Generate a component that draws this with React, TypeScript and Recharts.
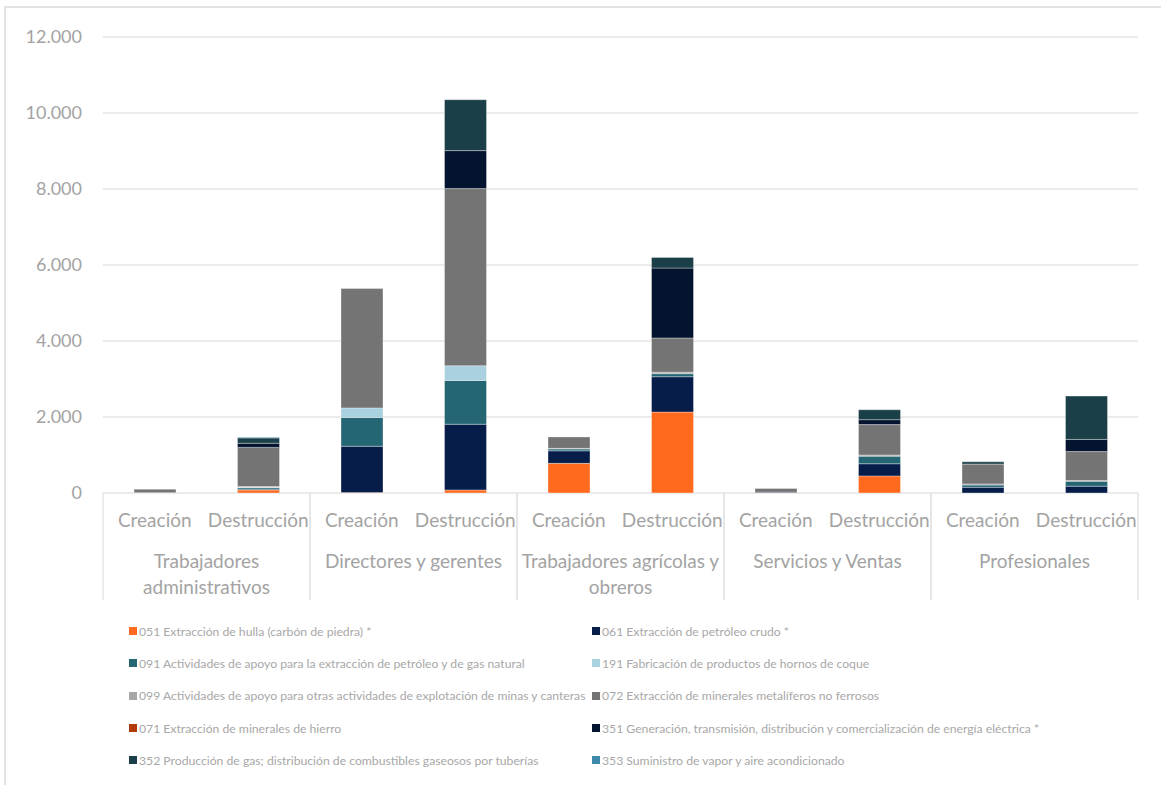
import { BarChart, Bar, XAxis, YAxis, CartesianGrid } from "recharts";

const groups = [
  "Trabajadores\nadministrativos",
  "Directores y gerentes",
  "Trabajadores agrícolas y\nobreros",
  "Servicios y Ventas",
  "Profesionales",
];
const kinds = ["Creación", "Destrucción"];

const yTicks = [0, 2000, 4000, 6000, 8000, 10000, 12000];

// one value per bar: admin C/D, directores C/D, agrícolas C/D, servicios C/D, profesionales C/D
const s051 = [0, 80, 10, 80, 780, 2130, 0, 450, 0, 0];
const s061 = [10, 20, 1220, 1730, 330, 930, 20, 320, 150, 180];
const s091 = [0, 40, 760, 1150, 50, 80, 0, 200, 60, 130];
const s191 = [0, 10, 250, 390, 0, 0, 0, 0, 0, 0];
const s099 = [0, 20, 0, 0, 15, 40, 0, 30, 30, 20];
const s072 = [90, 1030, 3140, 4660, 300, 900, 100, 800, 520, 760];
const s071 = [0, 0, 0, 0, 0, 0, 0, 0, 0, 0];
const s351 = [0, 110, 0, 1000, 0, 1840, 0, 130, 0, 320];
const s352 = [0, 140, 0, 1340, 0, 280, 0, 260, 60, 1140];
const s353 = [0, 20, 0, 0, 0, 0, 0, 0, 0, 0];

const series = [
  { key: "s051", name: "051 Extracción de hulla (carbón de piedra) *", color: "#FF6A1F", values: s051 },
  { key: "s061", name: "061 Extracción de petróleo crudo *", color: "#061D4A", values: s061 },
  { key: "s091", name: "091 Actividades de apoyo para la extracción de petróleo y de gas natural", color: "#256674", values: s091 },
  { key: "s191", name: "191 Fabricación de productos de hornos de coque", color: "#A9D1E0", values: s191 },
  { key: "s099", name: "099 Actividades de apoyo para otras actividades de explotación de minas y canteras", color: "#A6A6A6", values: s099 },
  { key: "s072", name: "072 Extracción de minerales metalíferos no ferrosos", color: "#747474", values: s072 },
  { key: "s071", name: "071 Extracción de minerales de hierro", color: "#B13B06", values: s071 },
  { key: "s351", name: "351 Generación, transmisión, distribución y comercialización de energía eléctrica *", color: "#04132E", values: s351 },
  { key: "s352", name: "352 Producción de gas; distribución de combustibles gaseosos por tuberías", color: "#1B3F48", values: s352 },
  { key: "s353", name: "353 Suministro de vapor y aire acondicionado", color: "#3E8AAA", values: s353 },
];

const data = s051.map((_, i) => {
  const row: Record<string, string | number> = {
    id: `${i}`,
    kind: kinds[i % 2],
  };
  series.forEach((s) => {
    row[s.key] = s.values[i];
  });
  return row;
});

const W = 1161;
const H = 785;
const PLOT_LEFT = 103;
const PLOT_RIGHT = 1138;
const FONT = "Lato, 'Open Sans', sans-serif";
const TEXT = "#a3a3a3";
const LINE = "#e4e4e4";
const halfBand = (PLOT_RIGHT - PLOT_LEFT) / data.length / 2;

const fmt = (v: number) => (v === 0 ? "0" : String(v).replace(/\B(?=(\d{3})+(?!\d))/g, "."));

const CategoryTick = (props: any) => {
  const { x, y, index } = props;
  const i = index as number;
  const first = i % 2 === 0;
  const sepX = first ? x - halfBand : x + halfBand;
  const lines = first ? groups[i / 2].split("\n") : [];
  return (
    <g>
      <line x1={sepX} y1={y} x2={sepX} y2={y + 107} stroke={LINE} strokeWidth={1.5} />
      <text x={x} y={y + 27} dy="0.35em" textAnchor="middle" fill={TEXT} fontSize={19} fontFamily={FONT}>
        {data[i].kind}
      </text>
      {lines.map((l, k) => (
        <text
          key={k}
          x={x + halfBand}
          y={y + 68 + k * 26}
          dy="0.35em"
          textAnchor="middle"
          fill={TEXT}
          fontSize={19}
          fontFamily={FONT}
        >
          {l}
        </text>
      ))}
    </g>
  );
};

const LegendGrid = () => (
  <div
    style={{
      position: "absolute",
      left: 0,
      top: 615,
      width: W,
      display: "grid",
      gridTemplateColumns: "463px 1fr",
      gridAutoRows: "32.3px",
      paddingLeft: 129,
      boxSizing: "border-box",
      fontFamily: FONT,
      fontSize: 12.2,
      color: "#a8a8a8",
    }}
  >
    {series.map((s) => (
      <div key={s.key} style={{ display: "flex", alignItems: "center", whiteSpace: "nowrap" }}>
        <span style={{ width: 8, height: 8, background: s.color, marginRight: 2, display: "inline-block", flex: "none" }} />
        <span>{s.name}</span>
      </div>
    ))}
  </div>
);

export default function App() {
  return (
    <div style={{ position: "absolute", left: 0, top: 0, width: W, height: H, overflow: "hidden", background: "#fff" }}>
      <div
        style={{
          position: "absolute",
          left: 4,
          top: 6,
          width: W,
          height: H,
          borderLeft: `2px solid ${LINE}`,
          borderTop: `2px solid ${LINE}`,
        }}
      />
      <div style={{ position: "absolute", left: 0, top: 0 }}>
        <BarChart
          width={W}
          height={H}
          data={data}
          margin={{ top: 37, right: W - PLOT_RIGHT, bottom: 0, left: 5 }}
          barSize={42}
        >
          <CartesianGrid horizontal vertical={false} stroke={LINE} strokeWidth={1.5} />
          <YAxis
            domain={[0, 12000]}
            ticks={yTicks}
            tickFormatter={fmt}
            width={PLOT_LEFT - 5}
            axisLine={false}
            tickLine={false}
            tickSize={0}
            tickMargin={21}
            tick={{ fontSize: 18, fill: TEXT, fontFamily: FONT }}
          />
          <XAxis
            dataKey="id"
            height={292}
            axisLine={false}
            tickLine={false}
            tickSize={0}
            tickMargin={0}
            interval={0}
            tick={<CategoryTick />}
          />
          {series.map((s) => (
            <Bar
              key={s.key}
              dataKey={s.key}
              name={s.name}
              stackId="a"
              fill={s.color}
              stroke="#ffffff"
              strokeOpacity={0.45}
              strokeWidth={0.75}
              isAnimationActive={false}
            />
          ))}
        </BarChart>
      </div>
      <LegendGrid />
    </div>
  );
}
